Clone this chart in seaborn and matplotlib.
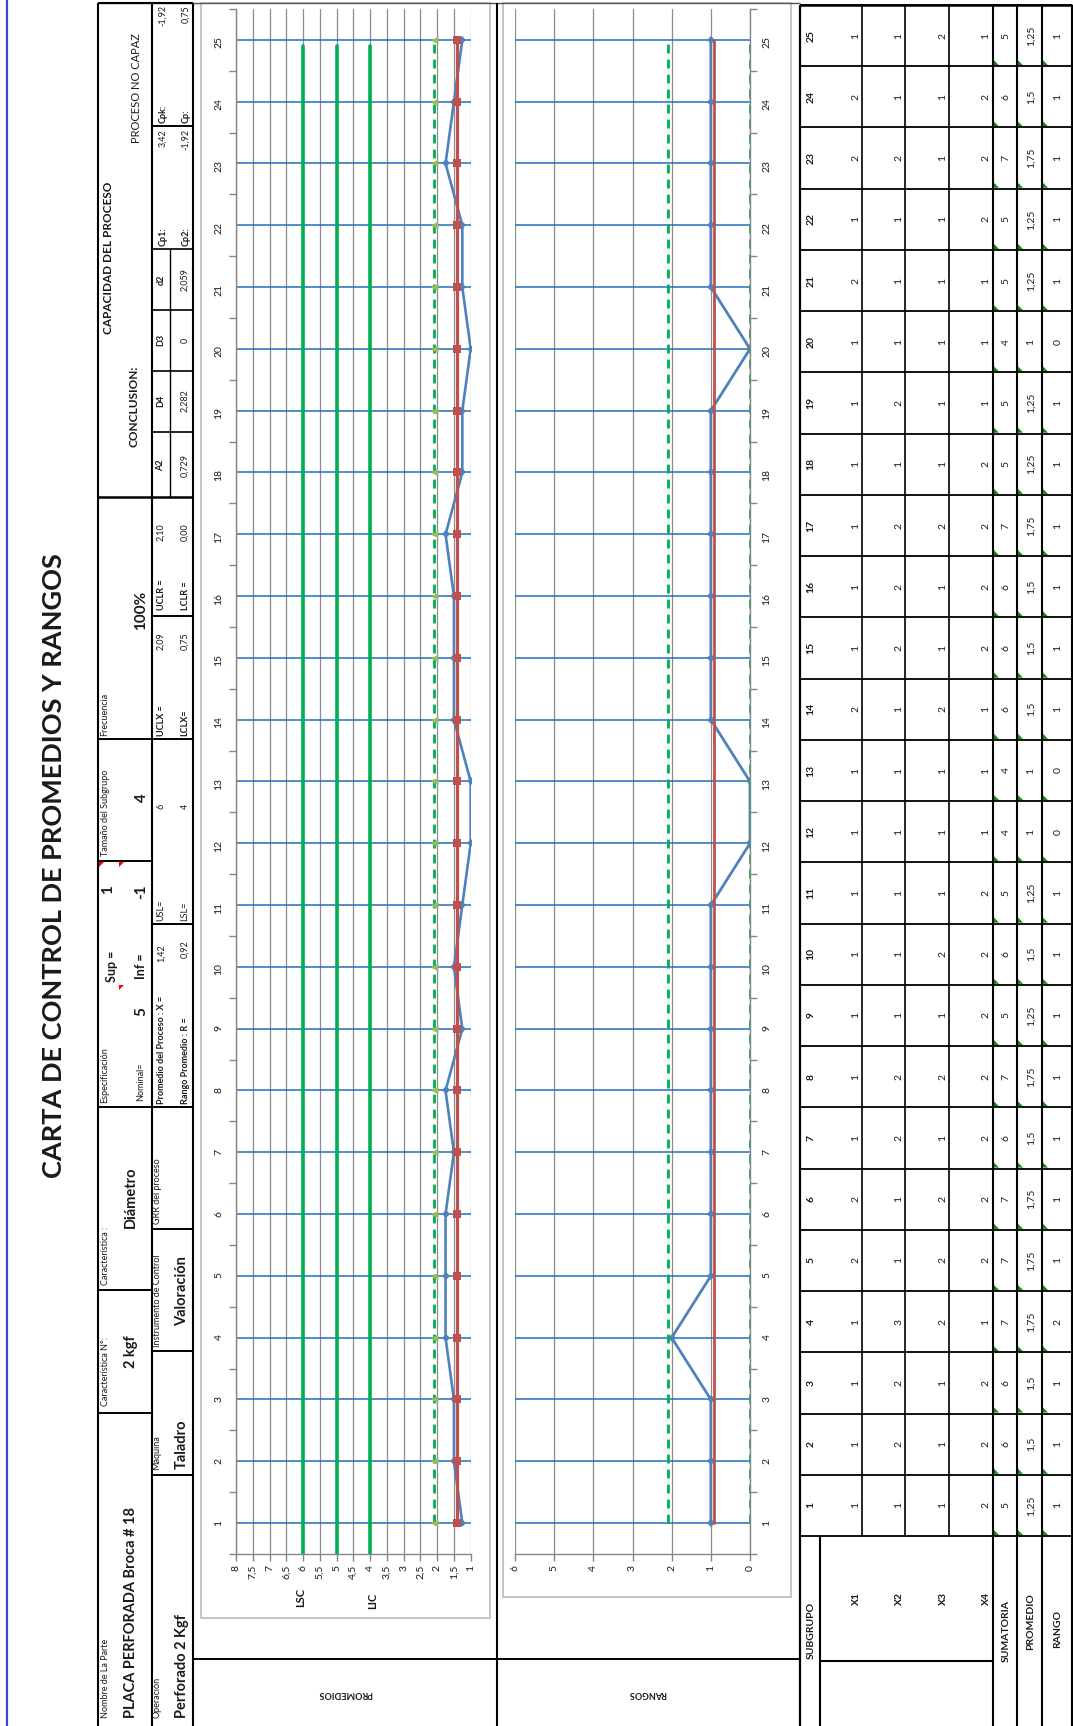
import numpy as np
import matplotlib
matplotlib.use("Agg")
import matplotlib.pyplot as plt
import seaborn as sns
from matplotlib.patches import Polygon, Rectangle
from matplotlib.ticker import FixedLocator, FuncFormatter, MultipleLocator

# ---------------- datos de la carta ----------------
subgrupos = list(range(1, 26))
x1 = [1, 1, 1, 1, 2, 2, 1, 1, 1, 1, 1, 1, 1, 2, 1, 1, 1, 1, 1, 1, 2, 1, 2, 2, 1]
x2 = [1, 2, 2, 3, 1, 1, 2, 2, 1, 1, 1, 1, 1, 1, 2, 2, 2, 1, 2, 1, 1, 1, 2, 1, 1]
x3 = [1, 1, 1, 2, 2, 2, 1, 2, 1, 2, 1, 1, 1, 2, 1, 1, 2, 1, 1, 1, 1, 1, 1, 1, 2]
x4 = [2, 2, 2, 1, 2, 2, 2, 2, 2, 2, 2, 1, 1, 1, 2, 2, 2, 2, 1, 1, 1, 2, 2, 2, 1]
sumatoria = [5, 6, 6, 7, 7, 7, 6, 7, 5, 6, 5, 4, 4, 6, 6, 6, 7, 5, 5, 4, 5, 5, 7, 6, 5]
promedio = [1.25, 1.5, 1.5, 1.75, 1.75, 1.75, 1.5, 1.75, 1.25, 1.5, 1.25, 1, 1,
            1.5, 1.5, 1.5, 1.75, 1.25, 1.25, 1, 1.25, 1.25, 1.75, 1.5, 1.25]
rango = [1, 1, 1, 2, 1, 1, 1, 1, 1, 1, 1, 0, 0, 1, 1, 1, 1, 1, 1, 0, 1, 1, 1, 1, 1]

promedio_proceso = 1.42
rango_promedio = 0.92
ucl_x, lcl_x = 2.09, 0.75
ucl_r, lcl_r = 2.10, 0.00
lsc, nominal, lic = 6, 5, 4
sup, inf = 1, -1
tam_subgrupo = 4
a2, d4, d3, d2 = 0.729, 2.282, 0, 2.059
cp1, cpk, cp2, cp = 3.42, -1.92, -1.92, 0.75

filas_tabla = ["X1", "X2", "X3", "X4"]

# ---------------- estilo ----------------
sns.set_theme(style="white")
plt.rcParams['font.family'] = ['Lato', 'DejaVu Sans']

BLUE = '#4F81BD'
RED = '#C0504D'
GREEN = '#00B050'
OLIVE = '#9BBB59'
GRID_BLUE = '#1F6FC0'
GRID_GRAY = '#8C8C8C'
AXIS_GRAY = '#868686'
TXT = '#1A1A1A'


def coma(v, dec=None):
    s = f"{v:.{dec}f}" if dec is not None else f"{v:g}"
    return s.replace('.', ',')


W, H = 1073, 1726


def fbox(x0, y0, x1_, y1_):
    return [x0 / W, 1 - y1_ / H, (x1_ - x0) / W, (y1_ - y0) / H]


fig = plt.figure(figsize=(W / 100, H / 100), dpi=100)
page = fig.add_axes([0, 0, 1, 1], zorder=0)
page.set_xlim(0, W)
page.set_ylim(H, 0)
page.axis('off')


def hline(y, xa, xb, lw=1.4, color='black'):
    page.plot([xa, xb], [y, y], color=color, lw=lw, solid_capstyle='butt')


def vline(x, ya, yb, lw=1.4, color='black'):
    page.plot([x, x], [ya, yb], color=color, lw=lw, solid_capstyle='butt')


def vtext(x, y, s, size=6.5, weight='normal', ha='left', color=TXT, rot=90):
    page.text(x, y, s, rotation=rot, rotation_mode='anchor', ha=ha, va='center',
              fontsize=size, fontweight=weight, color=color)


def corner_tri(x, y, dx, dy, color):
    page.add_patch(Polygon([(x, y), (x + dx, y), (x, y + dy)], closed=True,
                           color=color, lw=0))


# ---------------- marco de la hoja ----------------
vline(7, 0, H, lw=1.6, color='#4444C8')
hline(3, 98, 800, lw=1.0, color='#555555')

# Encabezado: bandas verticales
for xb in (98, 152, 193):
    vline(xb, 3, H, lw=1.5)
hline(3, 98, 193, lw=1.5)

# Banda A (x 98-152)
hline(1413, 98, 152)
hline(1290, 98, 152)
hline(1107, 98, 193)
hline(861, 98, 152)
hline(739, 98, 193)
hline(497, 98, 193, lw=1.8)

vtext(105, 1718, "Nombre de La Parte")
vtext(131, 1718, "PLACA PERFORADA Broca # 18", size=10.5, weight='bold')
vtext(105, 1406, "Característica N°:")
vtext(131, 1352, "2 kgf", size=10.5, weight='bold', ha='center')
vtext(105, 1285, "Característica :")
vtext(131, 1197, "Diámetro", size=10.5, weight='bold', ha='center')
vtext(105, 1103, "Especificación")
vtext(141, 1101, "Nominal=")
vtext(141, 1012, str(nominal), size=11, weight='bold', ha='center')
vtext(112, 966, "Sup =", size=9, weight='bold', ha='center')
vtext(141, 966, "Inf =", size=9, weight='bold', ha='center')
vtext(108, 890, str(sup), size=11, weight='bold', ha='center')
vtext(141, 892, str(inf), size=11, weight='bold', ha='center')
corner_tri(99, 862, 5, 5, '#FF0000')
corner_tri(119, 862, 5, 5, '#FF0000')
corner_tri(119, 985, 5, 5, '#FF0000')
vtext(105, 856, "Tamaño del Subgrupo")
vtext(142, 798, str(tam_subgrupo), size=11, weight='bold', ha='center')
vtext(105, 736, "Frecuencia")
vtext(141, 610, "100%", size=11, weight='bold', ha='center')
vtext(109, 258, "CAPACIDAD DEL PROCESO", size=8.5, weight='bold', ha='center')
vtext(134, 406, "CONCLUSION:", size=8.5, weight='bold', ha='center')
vtext(136, 88, "PROCESO NO CAPAZ", size=8, ha='center')

# Banda B (x 152-193)
hline(1475, 152, 193)
hline(1351, 152, 193)
hline(1229, 152, 193)
hline(924, 152, 193)
hline(616, 152, 193)
for yb in (432, 371, 310, 249):
    hline(yb, 152, 193, lw=1.2)
vline(170, 249, 497, lw=1.0)
hline(126, 152, 193, lw=1.4)

vtext(157, 1718, "Operación")
vtext(182, 1718, "Perforado 2 Kgf", size=10.5, weight='bold')
vtext(157, 1470, "Máquina")
vtext(182, 1444, "Taladro", size=10.5, weight='bold', ha='center')
vtext(157, 1347, "Instrumento de Control")
vtext(182, 1291, "Valoración", size=10.5, weight='bold', ha='center')
vtext(157, 1224, "GRR del proceso")
vtext(161, 1104, "Promedio del Proceso : X =", weight='bold')
vtext(161, 944, coma(promedio_proceso, 2), ha='right')
vtext(185, 1104, "Rango Promedio : R =", weight='bold')
vtext(185, 940, coma(rango_promedio, 2), ha='right')
vtext(161, 921, "USL=")
vtext(161, 806, str(lsc), ha='center')
vtext(185, 921, "LSL=")
vtext(185, 806, str(lic), ha='center')
vtext(161, 736, "UCLX =", weight='bold')
vtext(161, 641, coma(ucl_x, 2), ha='center')
vtext(185, 736, "LCLX=", weight='bold')
vtext(185, 641, coma(lcl_x, 2), ha='center')
vtext(161, 610, "UCLR =", weight='bold')
vtext(161, 532, coma(ucl_r, 2), ha='center')
vtext(185, 610, "LCLR =", weight='bold')
vtext(185, 532, coma(lcl_r, 2), ha='center')

for (lbl, val), yc in zip([("A2", a2), ("D4", d4), ("D3", d3), ("d2", d2)],
                          (465, 401, 340, 280)):
    vtext(161, yc, lbl, weight='bold', ha='center')
    vtext(185, yc, coma(val), ha='center')

vtext(163, 246, "Cp1:", weight='bold')
vtext(163, 129, coma(cp1, 2), ha='right')
vtext(163, 123, "Cpk:", weight='bold')
vtext(163, 5, coma(cpk, 2), ha='right')
vtext(186, 246, "Cp2:", weight='bold')
vtext(186, 129, coma(cp2, 2), ha='right')
vtext(186, 123, "Cp:", weight='bold')
vtext(186, 5, coma(cp, 2), ha='right')

# Titulo
page.text(54, 866, "CARTA DE CONTROL DE PROMEDIOS Y RANGOS", rotation=90,
          ha='center', va='center', fontsize=19.5, fontweight='bold', color=TXT)

# Separadores de las zonas de graficos
vline(497, 3, H, lw=1.5)
vline(800, 5, H, lw=1.6)
hline(1659, 193, 800, lw=1.4)
page.add_patch(Rectangle((201, 3), 289, 1615, fill=False, ec='#B5B5B5', lw=1.1))
page.add_patch(Rectangle((503, 3), 288, 1594, fill=False, ec='#B5B5B5', lw=1.1))
page.text(345, 1693, "PROMEDIOS", rotation=180, ha='center', va='center',
          fontsize=6.5, fontweight='bold', color=TXT)
page.text(647, 1693, "RANGOS", rotation=180, ha='center', va='center',
          fontsize=6.5, fontweight='bold', color=TXT)
vtext(301, 1597, "LSC", size=8, weight='bold', ha='center')
vtext(373, 1601, "LIC", size=8, weight='bold', ha='center')

# ---------------- tabla de datos ----------------
T_TOP, T_BOT = 5, 1536
col_h = (T_BOT - T_TOP) / len(subgrupos)
row_edges = [800, 862, 905, 949, 993, 1017, 1042, 1072]
hline(T_TOP, 800, 1072, lw=1.8)
for k in range(len(subgrupos) + 1):
    hline(T_TOP + k * col_h, 800, 1072, lw=1.3)
for xe in row_edges[1:4]:
    vline(xe, T_TOP, T_BOT, lw=1.2)
for xe in row_edges[4:]:
    vline(xe, T_TOP, H, lw=1.5)
vline(820, T_BOT, H, lw=1.5)
hline(1661, 820, 993, lw=1.5)

vtext(811, 1630, "SUBGRUPO", size=7.5, weight='bold', ha='center')
for lbl, xc in zip(filas_tabla, (856, 899, 943, 986)):
    vtext(xc, 1598, lbl, size=7.5, weight='bold', ha='center')
vtext(1006, 1631, "SUMATORIA", size=7.5, weight='bold', ha='center')
vtext(1031, 1622, "PROMEDIO", size=7.5, weight='bold', ha='center')
vtext(1058, 1629, "RANGO", size=7.5, weight='bold', ha='center')

for i, s in enumerate(subgrupos):
    y_bot = T_BOT - i * col_h
    yc = y_bot - col_h / 2
    vtext(811, yc, str(s), size=7.5, weight='bold', ha='center')
    for xc, serie in zip((856, 899, 943, 986), (x1, x2, x3, x4)):
        vtext(xc, yc, str(serie[i]), size=7.5, ha='center')
    vtext(1006, yc, str(sumatoria[i]), size=7.5, ha='center')
    vtext(1031, yc, coma(promedio[i]), size=7.5, ha='center')
    vtext(1058, yc, str(rango[i]), size=7.5, ha='center')
    for xe in (993, 1017, 1042):
        corner_tri(xe + 1, y_bot - 1, 5, -5, '#138A13')

# ---------------- grafico de promedios ----------------
ax1 = fig.add_axes(fbox(236, 9, 470.7, 1554), zorder=2)
ax1.set_facecolor('none')
ax1.set_axisbelow(True)

n = len(subgrupos)
sns.lineplot(x=promedio, y=subgrupos, orient='y', ax=ax1, color=BLUE, lw=1.9,
             marker='D', markersize=4.5, markeredgewidth=0, estimator=None, errorbar=None)
sns.lineplot(x=[promedio_proceso] * n, y=subgrupos, orient='y', ax=ax1, color=RED,
             lw=2.3, marker='s', markersize=6, markeredgewidth=0, estimator=None, errorbar=None)
sns.lineplot(x=[ucl_x] * n, y=subgrupos, orient='y', ax=ax1, color=GREEN, lw=2.0,
             linestyle=(0, (3.2, 2.2)), estimator=None, errorbar=None)
sns.scatterplot(x=[ucl_x] * n, y=subgrupos, ax=ax1, color=OLIVE, marker='<', s=30,
                linewidth=0, zorder=3)
for lim in (lsc, nominal, lic):
    sns.lineplot(x=[lim, lim], y=[subgrupos[0] - 0.5, subgrupos[-1] - 0.1], orient='y',
                 ax=ax1, color=GREEN, lw=2.6, estimator=None, errorbar=None)

ax1.set_xlim(8, 1)
ax1.set_ylim(0.5, 25.5)
ax1.set_xlabel('')
ax1.set_ylabel('')
ax1.xaxis.set_major_locator(MultipleLocator(0.5))
ax1.xaxis.set_major_formatter(FuncFormatter(lambda v, p: coma(v)))
ax1.yaxis.set_major_locator(FixedLocator(subgrupos))
ax1.yaxis.set_minor_locator(FixedLocator(np.arange(0.5, n + 1, 1)))
ax1.tick_params(axis='x', which='major', bottom=True, length=5, width=1, color=AXIS_GRAY,
                direction='out', labelrotation=90, labelsize=7.5, labelcolor=TXT, pad=3)
ax1.tick_params(axis='y', which='major', left=True, length=0, labelrotation=90,
                labelsize=7.5, labelcolor=TXT, pad=9)
ax1.tick_params(axis='y', which='minor', left=True, length=5, width=1, color=AXIS_GRAY,
                direction='out')
ax1.grid(axis='x', which='major', color=GRID_GRAY, lw=0.9)
ax1.grid(axis='y', which='major', color=GRID_BLUE, lw=1.1)
for sp in ('top', 'right'):
    ax1.spines[sp].set_visible(False)
for sp in ('left', 'bottom'):
    ax1.spines[sp].set_color(AXIS_GRAY)
    ax1.spines[sp].set_linewidth(1.0)

# ---------------- grafico de rangos ----------------
ax2 = fig.add_axes(fbox(515, 9, 750, 1554), zorder=2)
ax2.set_facecolor('none')
ax2.set_axisbelow(True)

sns.lineplot(x=rango, y=subgrupos, orient='y', ax=ax2, color=BLUE, lw=2.0,
             marker='D', markersize=4, markeredgewidth=0, estimator=None, errorbar=None)
sns.lineplot(x=[rango_promedio] * n, y=subgrupos, orient='y', ax=ax2, color=RED,
             lw=2.0, estimator=None, errorbar=None)
for lim in (ucl_r, lcl_r):
    sns.lineplot(x=[lim] * n, y=subgrupos, orient='y', ax=ax2, color=GREEN, lw=2.0,
                 linestyle=(0, (3.2, 2.2)), estimator=None, errorbar=None)

ax2.set_xlim(6, 0)
ax2.set_ylim(0.5, 25.5)
ax2.set_xlabel('')
ax2.set_ylabel('')
ax2.xaxis.set_major_locator(MultipleLocator(1))
ax2.xaxis.set_major_formatter(FuncFormatter(lambda v, p: coma(v)))
ax2.yaxis.tick_right()
ax2.yaxis.set_major_locator(FixedLocator(subgrupos))
ax2.yaxis.set_minor_locator(FixedLocator(np.arange(0.5, n + 1, 1)))
ax2.tick_params(axis='x', which='major', bottom=True, length=5, width=1, color=AXIS_GRAY,
                direction='out', labelrotation=90, labelsize=7.5, labelcolor=TXT, pad=3)
ax2.tick_params(axis='y', which='major', left=False, right=True, labelleft=False,
                labelright=True, length=0, labelrotation=90, labelsize=7.5,
                labelcolor=TXT, pad=9)
ax2.tick_params(axis='y', which='minor', left=False, right=True, length=5, width=1,
                color=AXIS_GRAY, direction='out')
ax2.grid(axis='x', which='major', color=GRID_GRAY, lw=0.9)
ax2.grid(axis='y', which='major', color=GRID_BLUE, lw=1.1)
for sp in ('top', 'left'):
    ax2.spines[sp].set_visible(False)
for sp in ('right', 'bottom'):
    ax2.spines[sp].set_color(AXIS_GRAY)
    ax2.spines[sp].set_linewidth(1.0)

fig.savefig("out.png", dpi=100)
